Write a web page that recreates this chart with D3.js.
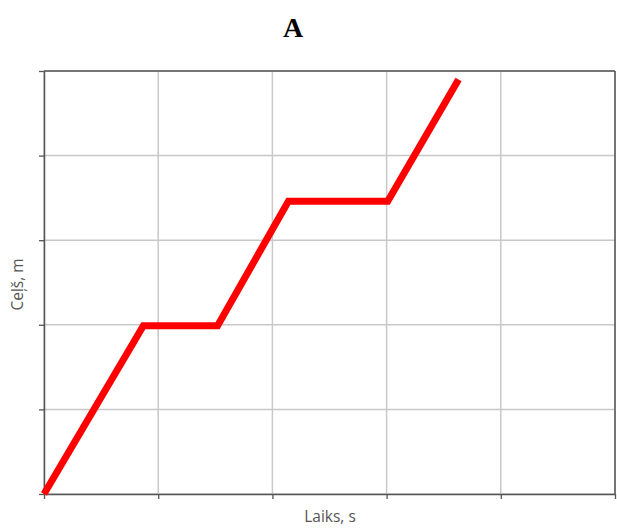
<!DOCTYPE html>
<html>
<head>
<meta charset="utf-8">
<script src="https://cdn.jsdelivr.net/npm/d3@7"></script>
<style>
  body { margin: 0; background: #fff; }
  svg { display: block; }
</style>
</head>
<body>
<svg id="chart" width="617" height="528"></svg>
<script>
// Data (grid units, no tick labels shown)
const title = "A";
const xLabel = "Laiks, s";
const yLabel = "Ceļš, m";
const timeValues = [0, 0.87, 1.52, 2.14, 3.01, 3.63];
const distanceValues = [0, 1.99, 1.99, 3.46, 3.46, 4.9];
const xTicks = [0, 1, 2, 3, 4, 5];
const yTicks = [0, 1, 2, 3, 4, 5];

const svg = d3.select("#chart");
const margin = { left: 44, right: 2, top: 71, bottom: 34 };
const W = 617, H = 528;

const x = d3.scaleLinear().domain([0, 5]).range([margin.left, W - margin.right]);
const y = d3.scaleLinear().domain([0, 5]).range([H - margin.bottom, margin.top]);

// grid
svg.append("g").selectAll("line.vg").data(xTicks).join("line")
  .attr("x1", d => x(d)).attr("x2", d => x(d))
  .attr("y1", y(0)).attr("y2", y(5))
  .attr("stroke", "#c8c8c8").attr("stroke-width", 1.5);
svg.append("g").selectAll("line.hg").data(yTicks).join("line")
  .attr("y1", d => y(d)).attr("y2", d => y(d))
  .attr("x1", x(0)).attr("x2", x(5))
  .attr("stroke", "#c8c8c8").attr("stroke-width", 1.5);

// axes
const xAxis = d3.axisBottom(x).tickValues(xTicks).tickFormat("").tickSize(5).tickSizeOuter(0);
const yAxis = d3.axisLeft(y).tickValues(yTicks).tickFormat("").tickSize(5).tickSizeOuter(0);
const gx = svg.append("g").attr("transform", `translate(0,${y(0)})`).call(xAxis);
const gy = svg.append("g").attr("transform", `translate(${x(0)},0)`).call(yAxis);
[gx, gy].forEach(g => {
  g.select(".domain").attr("stroke", "#555").attr("stroke-width", 1.5);
  g.selectAll(".tick line").attr("stroke", "#555").attr("stroke-width", 1.3);
});
// top & right spines
svg.append("line").attr("x1", x(0)).attr("x2", x(5)).attr("y1", y(5)).attr("y2", y(5))
  .attr("stroke", "#555").attr("stroke-width", 1.5);
svg.append("line").attr("x1", x(5)).attr("x2", x(5)).attr("y1", y(0)).attr("y2", y(5))
  .attr("stroke", "#555").attr("stroke-width", 1.5);

// line
const pts = timeValues.map((t, i) => [t, distanceValues[i]]);
svg.append("path")
  .datum(pts)
  .attr("fill", "none")
  .attr("stroke", "#ff0000")
  .attr("stroke-width", 7)
  .attr("stroke-linejoin", "miter")
  .attr("d", d3.line().x(d => x(d[0])).y(d => y(d[1])));

// title
svg.append("text")
  .attr("x", 293).attr("y", 37)
  .attr("text-anchor", "middle")
  .attr("font-family", "'Liberation Serif', 'DejaVu Serif', serif")
  .attr("font-weight", "bold")
  .attr("font-size", 28)
  .attr("fill", "#000")
  .text(title);

// axis labels
svg.append("text")
  .attr("x", 330).attr("y", 522)
  .attr("text-anchor", "middle")
  .attr("font-family", "'Open Sans', 'DejaVu Sans', sans-serif")
  .attr("font-size", 15.5)
  .attr("fill", "#555")
  .text(xLabel);

svg.append("text")
  .attr("transform", `translate(23,${(y(0) + y(5)) / 2 + 2}) rotate(-90)`)
  .attr("text-anchor", "middle")
  .attr("font-family", "'Open Sans', 'DejaVu Sans', sans-serif")
  .attr("font-size", 15.5)
  .attr("fill", "#555")
  .text(yLabel);
</script>
</body>
</html>
